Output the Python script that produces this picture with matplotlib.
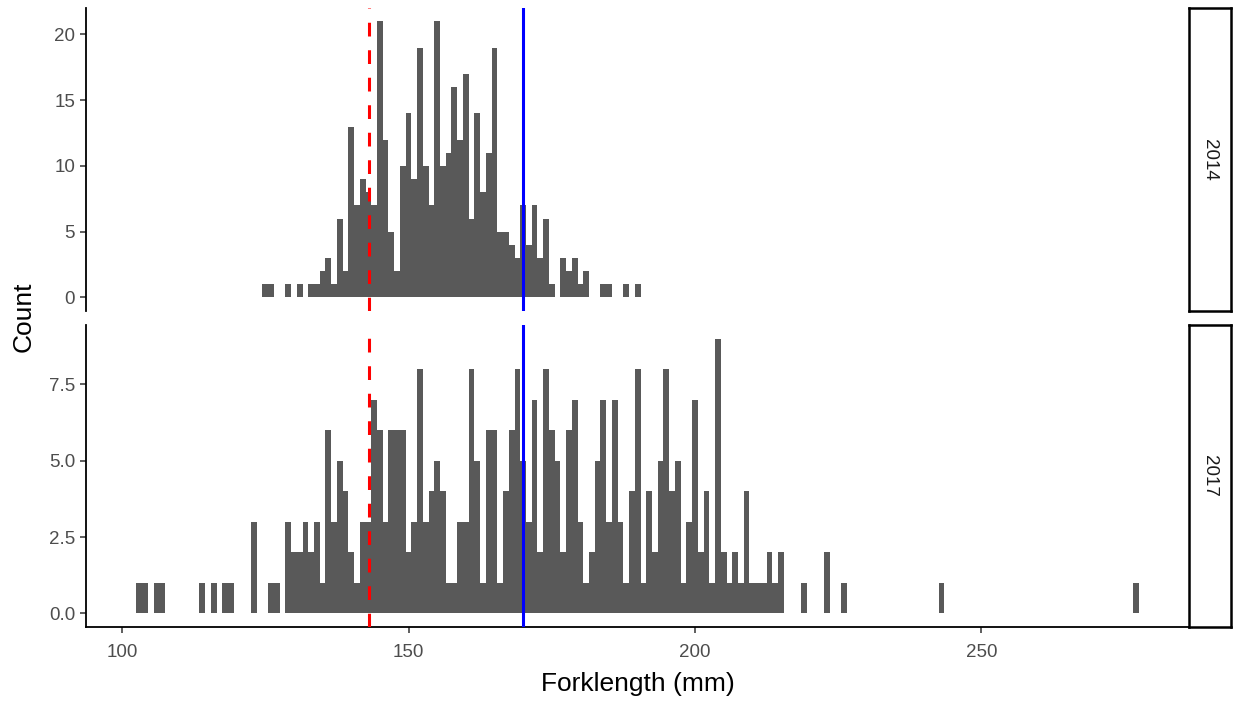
import matplotlib
matplotlib.use("Agg")
import matplotlib.pyplot as plt

plt.rcParams['font.family'] = ['Liberation Sans', 'DejaVu Sans']

# ---- data (1 mm bins, bin centres and counts) ----
bins_2014 = [125, 126, 129, 131, 133, 134, 135, 136, 137, 138, 139, 140, 141, 142, 143,
             144, 145, 146, 147, 148, 149, 150, 151, 152, 153, 154, 155, 156, 157, 158,
             159, 160, 161, 162, 163, 164, 165, 166, 167, 168, 169, 170, 171, 172, 173,
             174, 175, 177, 178, 179, 180, 181, 184, 185, 188, 190]
counts_2014 = [1, 1, 1, 1, 1, 1, 2, 3, 1, 6, 2, 13, 7, 9, 8,
               7, 21, 12, 5, 2, 10, 14, 9, 19, 10, 7, 21, 10, 11, 16,
               12, 17, 6, 14, 8, 11, 19, 5, 5, 4, 3, 7, 4, 7, 3,
               6, 1, 3, 2, 3, 1, 2, 1, 1, 1, 1]

bins_2017 = [103, 104, 106, 107, 114, 116, 118, 119, 123, 126, 127, 129, 130, 131, 132,
             133, 134, 135, 136, 137, 138, 139, 140, 141, 142, 143, 144, 145, 146, 147,
             148, 149, 150, 151, 152, 153, 154, 155, 156, 157, 158, 159, 160, 161, 162,
             163, 164, 165, 166, 167, 168, 169, 170, 171, 172, 173, 174, 175, 176, 177,
             178, 179, 180, 181, 182, 183, 184, 185, 186, 187, 188, 189, 190, 191, 192,
             193, 194, 195, 196, 197, 198, 199, 200, 201, 202, 203, 204, 205, 206, 207,
             208, 209, 210, 211, 212, 213, 214, 215, 219, 223, 226, 243, 277]
counts_2017 = [1, 1, 1, 1, 1, 1, 1, 1, 3, 1, 1, 3, 2, 2, 3,
               2, 3, 1, 6, 3, 5, 4, 2, 1, 3, 3, 7, 6, 3, 6,
               6, 6, 2, 3, 8, 3, 4, 5, 4, 1, 1, 3, 3, 8, 5,
               1, 6, 6, 1, 4, 6, 8, 5, 3, 7, 2, 8, 6, 5, 2,
               6, 7, 3, 1, 2, 5, 7, 3, 7, 3, 1, 4, 8, 1, 4,
               2, 5, 8, 4, 5, 1, 3, 7, 2, 4, 1, 9, 2, 1, 2,
               1, 4, 1, 1, 1, 2, 1, 2, 1, 2, 1, 1, 1]

years = ["2014", "2017"]
red_line = 143.1
blue_line = 169.9
xticks = [100, 150, 200, 250]
yticks_2014 = [0, 5, 10, 15, 20]
yticks_2017 = [0.0, 2.5, 5.0, 7.5]

W, H = 1235, 702
fig = plt.figure(figsize=(W / 100, H / 100), dpi=100)

def fx(px):
    return px / W

def fy(py):
    return 1 - py / H

left_px, right_px = 86.2, 1189.2
panels = [(7.5, 311.3), (325.0, 627.0)]
data = [(bins_2014, counts_2014, yticks_2014, "{:.0f}"),
        (bins_2017, counts_2017, yticks_2017, "{:.1f}")]

tick_color = '#4D4D4D'
axes = []
for i, ((top, bot), (b, c, yt, fmt)) in enumerate(zip(panels, data)):
    ax = fig.add_axes([fx(left_px), fy(bot), fx(right_px - left_px), (bot - top) / H])
    axes.append(ax)
    ax.bar(b, c, width=1.0, color='#595959', edgecolor='none', zorder=2)
    ymax = max(c)
    ax.set_ylim(-0.05 * ymax, ymax * 1.05)
    ax.set_xlim(93.75, 286.25)
    ax.axvline(red_line, color='#FF0000', lw=2.2, ls=(0, (4.5, 4.5)), zorder=3)
    ax.axvline(blue_line, color='#0000FF', lw=2.2, zorder=3)
    ax.set_yticks(yt)
    ax.set_yticklabels([fmt.format(v) for v in yt])
    ax.set_xticks(xticks)
    for s in ['top', 'right']:
        ax.spines[s].set_visible(False)
    ax.spines['left'].set_linewidth(1.3)
    ax.spines['bottom'].set_linewidth(1.3)
    ax.tick_params(axis='both', colors='#333333', labelcolor=tick_color,
                   labelsize=13.5, length=4, width=1.1, pad=4)
    ax.tick_params(axis='x', pad=8)
    if i == 0:
        ax.spines['bottom'].set_visible(False)
        ax.tick_params(axis='x', bottom=False, labelbottom=False)
    # strip
    sx = fig.add_axes([fx(1188.5), fy(bot), fx(1231 - 1188.5), (bot - top) / H])
    sx.set_xticks([])
    sx.set_yticks([])
    for s in sx.spines.values():
        s.set_linewidth(1.8)
        s.set_color('black')
    sx.text(0.5, 0.5, years[i], rotation=-90, ha='center', va='center',
            fontsize=13.5, color='#1A1A1A', transform=sx.transAxes)

fig.text(fx(638), fy(684), "Forklength (mm)", ha='center', va='center',
         fontsize=19, color='black')
fig.text(fx(24), fy(317), "Count", rotation=90, ha='center', va='center',
         fontsize=19, color='black')

fig.savefig("out.png", dpi=100)
